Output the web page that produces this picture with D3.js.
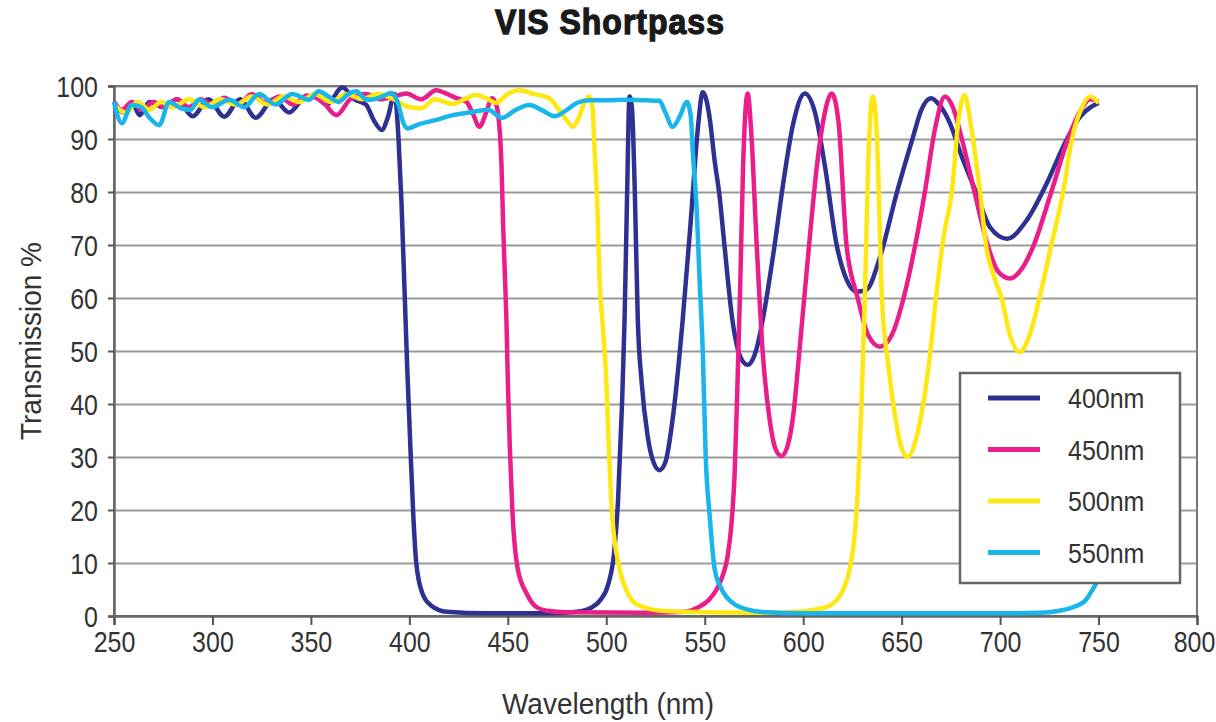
<!DOCTYPE html>
<html>
<head>
<meta charset="utf-8">
<script src="https://cdn.jsdelivr.net/npm/d3@7"></script>
<style>
  body { margin: 0; background: #fff; }
  text { font-family: "Liberation Sans", Arial, sans-serif; fill: #333; }
</style>
</head>
<body>
<div id="chart"></div>
<script>
// wavelength (nm), transmission (%)
const filter400 = [
  [250,97],[255,95],[259,97],[263,94.5],[268,97],[275,96],[282,97.5],[290,94.3],[298,97.5],
  [306,94.2],[314,97.5],[322,94],[331,97.5],[339,95],[346,97.5],[352,98],[358,96.5],[366,99.7],
  [372,97.5],[378,96.5],[382,93.5],[386,91.7],[389,94],[392.5,98.5],[394.5,90],[396,78],[397.5,62],
  [399,46],[400.5,32],[402,19],[403.5,10],[406.6,4.3],[411,2],[419,0.8],[440,0.5],[470,0.5],
  [485,0.8],[492,1.5],[497,3],[501,6],[504,12],[506,22],[508,40],[509.3,56],[510.5,78],[511.8,98],
  [513,96],[514.5,80],[516,56],[518,44],[521,34],[524,29],[527,27.5],[530,29],[534,38],[538.8,55.8],
  [543,75],[546.5,92],[549,98.8],[552.5,94],[555,86],[557.6,79],[560,70],[564,56],[568,49],
  [571.8,47.4],[576,50],[580,57],[585.5,70],[590,82],[595,93],[600.8,98.6],[606,95],[611,85],
  [617,70],[622,63.5],[627,61.2],[632,61.5],[639,67.7],[647.5,79.8],[655.8,90.4],[660,95.5],
  [665,97.7],[669,96.5],[674.5,93],[680.6,86.6],[688,79.8],[694.8,73.4],[703.5,71.2],[713.6,74.7],
  [723.8,81.7],[732,88.5],[740.6,94.2],[746,96],[750,96.8]
];
const filter450 = [
  [250,97],[254,95.5],[259,97],[264,95.5],[270,97],[276,96],[282,97.5],[288,96],[294,97.5],
  [300,96.5],[306,97.8],[313,96.5],[320,98.5],[327,96.8],[334,98],[341,96.5],[348,98.2],[356,97],
  [363,94.5],[370,97.5],[378,98.5],[385,97.5],[392,98],[398.5,98.6],[406,97.5],[413.7,99.2],
  [419,98.5],[424,97.7],[429,97],[432,95],[435.6,92.3],[439,95],[442,97.7],[443.5,97],[444.7,95.6],
  [446,91],[446.8,85],[447.6,74],[448.6,63.4],[449.3,55.8],[450,44.5],[451,32],[452.3,20],[455,9],
  [459.5,4.3],[464.5,1.7],[470,1],[480,0.7],[520,0.6],[540,0.8],[547,1.7],[552,3],[556,5],
  [559,7.5],[561.5,11],[563.5,17],[565.2,27],[566.5,42],[568,62],[569.5,85],[571.8,98.6],[573.5,92],
  [576.4,70],[579.4,50],[583,37],[586,31.5],[589,30.2],[592,32],[595,38],[598,49.6],[603,70],
  [607,85],[611,95],[614.5,98.6],[618,93],[622,70],[627.7,60],[633,53],[639,50.8],[645,53],
  [651,60],[656.7,69.6],[661.8,80],[667,92],[672,98],[676,96],[680.6,90],[687,80],[694,69.6],
  [699,65],[705,63.7],[711,65.5],[716.7,69.6],[726,80],[734.5,90],[741,95.5],[745.7,97.5],[750,97]
];
const filter500 = [
  [250,96.5],[256,95],[262,97],[268,95.5],[274,97],[280,96],[288,97.5],[296,96],[304,97.5],
  [312,96.5],[320,98],[328,96.5],[336,98],[344,97],[352,98.5],[360,97],[368,98.5],[376,97.5],
  [384,98.5],[392,97.5],[400,96],[406,95.8],[413,97.5],[422,96.6],[428,97.5],[434,98.3],
  [440,97.5],[444,96.8],[450,98.5],[456,99.2],[463,98.5],[471,97.7],[476,95.5],[480,93.5],
  [483,92.3],[486,94],[489,97],[491.5,98],[493,96],[494,88.5],[495.6,76],[496.6,63.4],[498,55.8],
  [500,44.5],[501.5,30],[503,19],[506.7,9],[510,5],[513,3],[518,1.8],[528,1],[540,0.8],[580,0.6],
  [600,0.9],[607,1.3],[612,1.7],[617,3],[621,5.5],[623.7,9],[625.5,13],[627,19],[628.5,30],
  [629.8,42],[631.3,60],[633,85],[635.4,98],[637.5,90],[640,60],[643,48],[645.5,40.7],[649,33],
  [653,30],[657,33],[660,38],[664,48],[668,62],[671.5,72],[675.5,80],[679,94],[682,98.3],[685,93],
  [689.8,80],[693,69.6],[697,64],[701,59.6],[705,53],[710,49.8],[715,53],[720,60],[726,70],
  [732,80],[736.5,90],[741,95.5],[745.7,98],[750,96.8]
];
const filter550 = [
  [250,97],[254,93],[259,96.4],[264,96],[268,94],[273,92.6],[278,97],[284,95.8],[289,95.5],
  [293,97.4],[300,96],[308.5,97.4],[316,96],[323.7,98.5],[332,96.5],[340.5,98.5],[349,97.4],
  [354,99],[359,98],[364,97],[369,98.5],[373,99],[378,97.5],[381,97.4],[386,98],[391,98.7],
  [394,97],[397,93],[399,92],[405,92.8],[413.7,93.6],[422,94.5],[430.5,95],[440,95.5],[447,94],
  [454,95.5],[461,96.4],[467,95.5],[474,94.3],[480,95.5],[485,96.8],[491.5,97.3],[500,97.3],
  [510,97.4],[520,97.3],[527,97.2],[530,95],[533.7,92.3],[537,94],[541,97],[543,94],[543.8,88.5],
  [546,76],[547.4,63.4],[549,50],[550.5,30],[552.5,19],[555,9],[558,5.5],[561,3.6],[566,2],
  [572,1.2],[578,0.8],[600,0.5],[700,0.5],[720,0.6],[730,1],[738,1.8],[743,2.8],[747,5],[750,7]
];

const seriesNames = ["400nm", "450nm", "500nm", "550nm"];
const seriesData = [filter400, filter450, filter500, filter550];
const seriesColors = ["#2e3192", "#ea1e8a", "#ffe714", "#18b6ea"];

const xTicks = [250, 300, 350, 400, 450, 500, 550, 600, 650, 700, 750, 800];
const yTicks = [0, 10, 20, 30, 40, 50, 60, 70, 80, 90, 100];

const width = 1216, height = 722;
const margin = {left: 114, right: 19, top: 86, bottom: 106};
const plotW = width - margin.left - margin.right;
const plotH = height - margin.top - margin.bottom;

// the reference type is a bit taller than it is wide
function stretch(sel, sy) {
  sel.each(function() {
    const t = d3.select(this);
    const yv = +t.attr("y") || 0;
    t.attr("y", yv / sy)
     .attr("transform", (t.attr("transform") || "") + " scale(1," + sy + ")");
  });
}

const svg = d3.select("#chart").append("svg")
    .attr("width", width)
    .attr("height", height);

const chart = svg.append("g")
    .attr("transform", "translate(" + margin.left + "," + margin.top + ")");

const x = d3.scaleLinear().domain([250, 800]).range([0, plotW]);
const y = d3.scaleLinear().domain([0, 100]).range([plotH, 0]);

// horizontal gridlines
chart.append("g")
    .attr("class", "grid")
    .call(d3.axisLeft(y).tickValues(yTicks.slice(1)).tickSize(-plotW).tickFormat(""))
    .call(g => g.select(".domain").remove())
    .call(g => g.selectAll("line").attr("stroke", "#9a9a9a").attr("stroke-width", 2));

// frame top / right
chart.append("rect")
    .attr("width", plotW).attr("height", plotH)
    .attr("fill", "none").attr("stroke", "#777").attr("stroke-width", 2);

// axes
const xAxis = chart.append("g")
    .attr("transform", "translate(0," + plotH + ")")
    .call(d3.axisBottom(x).tickValues(xTicks).tickSize(9).tickPadding(7));
const yAxis = chart.append("g")
    .call(d3.axisLeft(y).tickValues(yTicks).tickSize(6).tickPadding(10));

[xAxis, yAxis].forEach(a => {
  a.select(".domain").attr("stroke", "#666").attr("stroke-width", 2.5);
  a.selectAll(".tick line").attr("stroke", "#555").attr("stroke-width", 2);
  a.selectAll(".tick text").attr("font-size", 25).attr("font-family", null).attr("fill", "#333");
});
yAxis.selectAll(".tick text").attr("dy", "0.36em");
xAxis.selectAll(".tick text").filter(d => d === 800).attr("dx", -3);
stretch(xAxis.selectAll(".tick text"), 1.15);
stretch(yAxis.selectAll(".tick text"), 1.15);

// curves
const line = d3.line()
    .x(d => x(d[0]))
    .y(d => y(d[1]))
    .curve(d3.curveMonotoneX);

chart.selectAll(".curve")
    .data(seriesData)
    .join("path")
    .attr("class", "curve")
    .attr("d", line)
    .attr("fill", "none")
    .attr("stroke", (d, i) => seriesColors[i])
    .attr("stroke-width", 4.5)
    .attr("stroke-linejoin", "round");

// legend
const legend = svg.append("g").attr("transform", "translate(960,373)");
legend.append("rect")
    .attr("width", 220).attr("height", 210)
    .attr("fill", "#fff").attr("stroke", "#666").attr("stroke-width", 2.5);
const items = legend.selectAll(".item")
    .data(seriesNames)
    .join("g")
    .attr("transform", (d, i) => "translate(0," + (25 + i * 51.5) + ")");
items.append("line")
    .attr("x1", 28).attr("x2", 80)
    .attr("stroke", (d, i) => seriesColors[i])
    .attr("stroke-width", 5);
const legendText = items.append("text")
    .attr("x", 108).attr("dy", "0.36em")
    .attr("font-size", 25)
    .text(d => d);
stretch(legendText, 1.12);

// titles
const title = svg.append("text")
    .attr("x", 610).attr("y", 34)
    .attr("text-anchor", "middle")
    .attr("font-size", 32).attr("font-weight", "bold")
    .attr("letter-spacing", 1)
    .style("fill", "#1a1a1a")
    .style("stroke", "#1a1a1a").style("stroke-width", 1.2)
    .text("VIS Shortpass");
stretch(title, 1.08);

const xTitle = svg.append("text")
    .attr("x", 608).attr("y", 714)
    .attr("text-anchor", "middle")
    .attr("font-size", 28)
    .text("Wavelength (nm)");
stretch(xTitle, 1.08);

const yTitle = svg.append("text")
    .attr("transform", "translate(41,341) rotate(-90)")
    .attr("text-anchor", "middle")
    .attr("font-size", 28)
    .text("Transmission %");
stretch(yTitle, 1.08);
</script>
</body>
</html>
